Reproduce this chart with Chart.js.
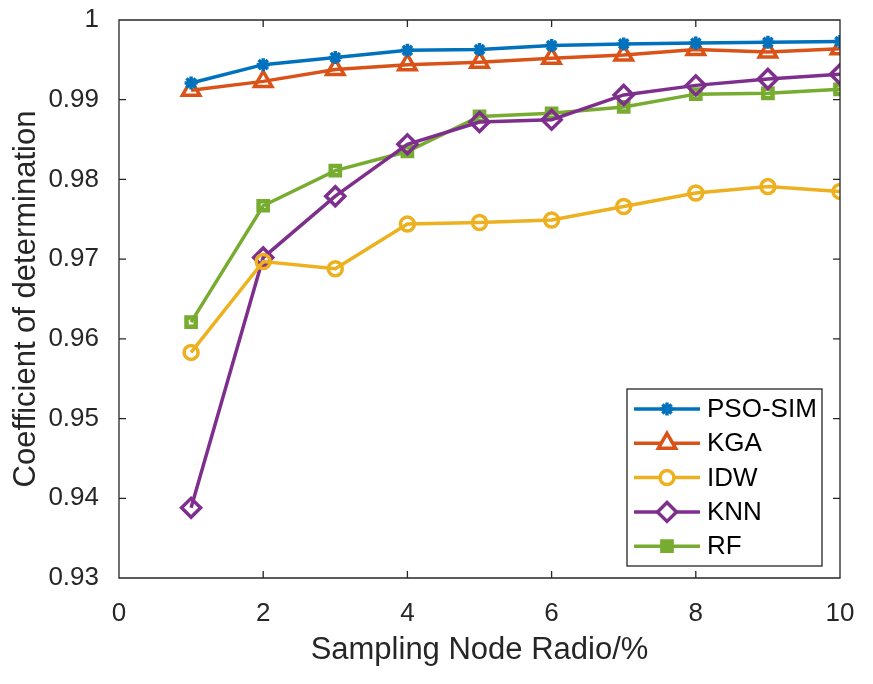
<!DOCTYPE html>
<html lang="en">
<head>
<meta charset="UTF-8">
<title>Coefficient of determination</title>
<script src="https://cdn.jsdelivr.net/npm/chart.js"></script>
<style>
    html, body { margin: 0; padding: 0; background: #ffffff; }
    #box { width: 873px; height: 684px; }
</style>
</head>
<body>
<div id="box"><canvas id="grafico"></canvas></div>
<script>
    // data
    var ratios = [1, 2, 3, 4, 5, 6, 7, 8, 9, 10];
    var psoSim = [0.9921, 0.9944, 0.9953, 0.9962, 0.9963, 0.9968, 0.9970, 0.9971, 0.9972, 0.9973];
    var kga    = [0.9912, 0.9923, 0.9938, 0.9944, 0.9947, 0.9952, 0.9956, 0.9963, 0.9960, 0.9964];
    var idw    = [0.9583, 0.9697, 0.9688, 0.9744, 0.9746, 0.9749, 0.9766, 0.9783, 0.9791, 0.9785];
    var knn    = [0.9388, 0.9702, 0.9779, 0.9844, 0.9872, 0.9875, 0.9906, 0.9918, 0.9926, 0.9932];
    var rf     = [0.9621, 0.9767, 0.9811, 0.9835, 0.9879, 0.9883, 0.9891, 0.9907, 0.9908, 0.9913];
    var nomes = ['PSO-SIM', 'KGA', 'IDW', 'KNN', 'RF'];
    var xTicks = [0, 2, 4, 6, 8, 10];
    var yTicks = [0.93, 0.94, 0.95, 0.96, 0.97, 0.98, 0.99, 1];

    var cores = ['#0072BD', '#D95319', '#EDB120', '#7E2F8E', '#77AC30'];
    var eixoCor = '#262626';

    function pontos(valores) {
        var lista = [];
        for (var i = 0; i < ratios.length; i++) {
            lista.push({ x: ratios[i], y: valores[i] });
        }
        return lista;
    }

    function serie(i, valores, estilo, raio, borda) {
        return {
            label: nomes[i],
            data: pontos(valores),
            borderColor: cores[i],
            backgroundColor: 'rgba(0,0,0,0)',
            pointBorderColor: cores[i],
            pointBackgroundColor: 'rgba(0,0,0,0)',
            borderWidth: 3.5,
            pointStyle: estilo,
            pointRadius: raio,
            pointHoverRadius: raio,
            pointBorderWidth: borda,
            tension: 0
        };
    }

    var series = [
        serie(0, psoSim, 'star', 6.5, 3.5),
        serie(1, kga, 'triangle', 10, 3.5),
        serie(2, idw, 'circle', 7, 3.5),
        serie(3, knn, 'rectRot', 9.5, 3.5),
        serie(4, rf, 'rect', 6.5, 4.5)
    ];

    // MATLAB style box with inward ticks
    var caixaEixos = {
        id: 'caixaEixos',
        afterDraw: function (chart) {
            var ctx = chart.ctx;
            var a = chart.chartArea;
            var sx = chart.scales.x;
            var sy = chart.scales.y;
            var tam = 7;
            ctx.save();
            ctx.strokeStyle = eixoCor;
            ctx.lineWidth = 1.3;
            ctx.beginPath();
            ctx.rect(a.left, a.top, a.right - a.left, a.bottom - a.top);
            for (var i = 0; i < xTicks.length; i++) {
                var px = sx.getPixelForValue(xTicks[i]);
                ctx.moveTo(px, a.bottom); ctx.lineTo(px, a.bottom - tam);
                ctx.moveTo(px, a.top); ctx.lineTo(px, a.top + tam);
            }
            for (var j = 0; j < yTicks.length; j++) {
                var py = sy.getPixelForValue(yTicks[j]);
                ctx.moveTo(a.left, py); ctx.lineTo(a.left + tam, py);
                ctx.moveTo(a.right, py); ctx.lineTo(a.right - tam, py);
            }
            ctx.stroke();

            // legend
            var lx = 627, ly = 389, lw = 195, lh = 177;
            ctx.fillStyle = '#ffffff';
            ctx.fillRect(lx, ly, lw, lh);
            ctx.lineWidth = 1.3;
            ctx.strokeStyle = eixoCor;
            ctx.strokeRect(lx, ly, lw, lh);
            ctx.font = '26px "Liberation Sans", Arial, sans-serif';
            ctx.textBaseline = 'middle';
            var ds = chart.data.datasets;
            for (var k = 0; k < ds.length; k++) {
                var yy = ly + 20 + k * 34.3;
                ctx.strokeStyle = ds[k].borderColor;
                ctx.lineWidth = 3.5;
                ctx.beginPath();
                ctx.moveTo(lx + 7, yy);
                ctx.lineTo(lx + 73, yy);
                ctx.stroke();
                if (Chart.helpers && Chart.helpers.drawPoint) {
                    ctx.fillStyle = k === 4 ? ds[k].borderColor : '#ffffff';
                    ctx.strokeStyle = ds[k].borderColor;
                    ctx.lineWidth = ds[k].pointBorderWidth;
                    Chart.helpers.drawPoint(ctx, {
                        pointStyle: ds[k].pointStyle,
                        radius: ds[k].pointRadius,
                        borderWidth: ds[k].pointBorderWidth,
                        rotation: 0
                    }, lx + 40, yy);
                }
                ctx.fillStyle = '#000000';
                ctx.fillText(ds[k].label, lx + 80, yy + 1);
            }
            ctx.restore();
        }
    };

    var fonte = '"Liberation Sans", Arial, sans-serif';
    Chart.defaults.font.family = fonte;
    Chart.defaults.color = eixoCor;

    var ctx = document.getElementById('grafico').getContext('2d');
    var grafico = new Chart(ctx, {
        type: 'line',
        data: { datasets: series },
        options: {
            responsive: true,
            maintainAspectRatio: false,
            animation: false,
            layout: { padding: { top: 20, right: 33, left: 0, bottom: 0 } },
            plugins: {
                legend: { display: false },
                tooltip: { enabled: false }
            },
            scales: {
                x: {
                    type: 'linear',
                    min: 0,
                    max: 10,
                    grid: { display: false },
                    border: { display: false },
                    ticks: {
                        stepSize: 2,
                        padding: 12,
                        maxRotation: 0,
                        font: { size: 26 },
                        color: eixoCor
                    },
                    title: {
                        display: true,
                        text: 'Sampling Node Radio/%',
                        font: { size: 31 },
                        color: eixoCor,
                        padding: { top: 0, bottom: 15 }
                    },
                    afterFit: function (scale) {
                        scale.height = 106;
                        scale.paddingLeft = 0;
                        scale.paddingRight = 0;
                    }
                },
                y: {
                    type: 'linear',
                    min: 0.93,
                    max: 1,
                    grid: { display: false },
                    border: { display: false },
                    ticks: {
                        stepSize: 0.01,
                        padding: 12,
                        font: { size: 26 },
                        color: eixoCor,
                        callback: function (v) { return String(Number(v.toFixed(2))); }
                    },
                    title: {
                        display: true,
                        text: 'Coefficient of determination',
                        font: { size: 31 },
                        color: eixoCor,
                        padding: { top: 8, bottom: 0 }
                    },
                    afterFit: function (scale) {
                        scale.width = 119;
                        scale.paddingTop = 0;
                        scale.paddingBottom = 0;
                    }
                }
            }
        },
        plugins: [caixaEixos]
    });
</script>
</body>
</html>
